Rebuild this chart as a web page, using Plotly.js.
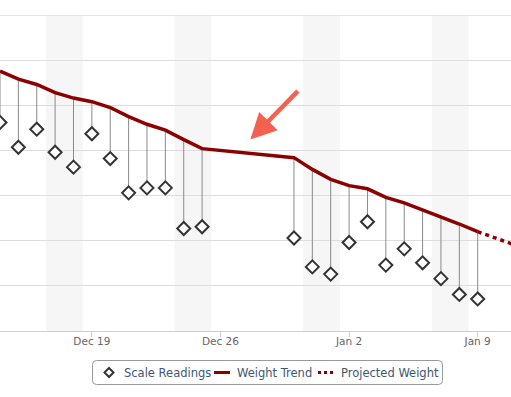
<!DOCTYPE html>
<html>
<head>
<meta charset="utf-8">
<script src="https://cdn.plot.ly/plotly-3.0.1.min.js"></script>
<style>
  html, body { margin: 0; padding: 0; background: #ffffff; }
  #chart { width: 511px; height: 397px; }
</style>
</head>
<body>
<div id="chart"></div>
<script>
// ---- data ----
const readingDates = ['2011-12-14','2011-12-15','2011-12-16','2011-12-17','2011-12-18','2011-12-19','2011-12-20','2011-12-21','2011-12-22','2011-12-23','2011-12-24','2011-12-25',
  '2011-12-30','2011-12-31','2012-01-01','2012-01-02','2012-01-03','2012-01-04','2012-01-05','2012-01-06','2012-01-07','2012-01-08','2012-01-09'];
const scaleReadings = [182.62,182.07,182.47,181.96,181.63,182.37,181.82,181.06,181.17,181.17,180.27,180.31,
  180.06,179.42,179.26,179.96,180.42,179.46,179.82,179.51,179.16,178.81,178.71];
const weightTrend = [183.76,183.58,183.46,183.28,183.16,183.08,182.95,182.75,182.58,182.45,182.24,182.04,
  181.84,181.58,181.36,181.22,181.15,180.96,180.84,180.69,180.52,180.37,180.20];
const projectedDates = ['2012-01-09','2012-01-11'];
const projectedWeight = [180.20, 179.91];
const weekendStarts = ['2011-12-16 12:00','2011-12-23 12:00','2011-12-30 12:00','2012-01-06 12:00'];
const weekendEnds   = ['2011-12-18 12:00','2011-12-25 12:00','2012-01-01 12:00','2012-01-08 12:00'];
const tickDates = ['2011-12-19','2011-12-26','2012-01-02','2012-01-09'];
const tickLabels = ['Dec 19','Dec 26','Jan 2','Jan 9'];
const legendNames = ['Scale Readings','Weight Trend','Projected Weight'];
const yMin = 178, yMax = 185;

// stems from trend to reading
const stemX = [], stemY = [];
readingDates.forEach((d, i) => {
  stemX.push(d, d, null);
  stemY.push(weightTrend[i], scaleReadings[i], null);
});

const FONT = '"DejaVu Sans", Verdana, Arial, sans-serif';
const RED = '#8b0000';
const GRID = '#dddddd';
const W = 511, H = 397, MT = 15, MB = 66;
const PH = H - MT - MB;
// pixel -> paper helpers for the hand-built legend
const PX = px => px / W;
const PY = py => (H - MB - py) / PH;

const traces = [
  { x: stemX, y: stemY, mode: 'lines', line: { color: '#8a8a8a', width: 1 },
    hoverinfo: 'skip', showlegend: false },
  { x: readingDates, y: weightTrend, mode: 'lines', name: legendNames[1],
    line: { color: RED, width: 3.5 }, showlegend: false },
  { x: projectedDates, y: projectedWeight, mode: 'lines', name: legendNames[2],
    line: { color: RED, width: 3.5, dash: '4px,4px' }, showlegend: false },
  { x: readingDates, y: scaleReadings, mode: 'markers', name: legendNames[0],
    marker: { symbol: 'diamond', size: 10, color: '#ffffff', line: { color: '#333333', width: 2 } },
    showlegend: false }
];

const shapes = weekendStarts.map((s, i) => ({
  type: 'rect', xref: 'x', yref: 'paper', x0: s, x1: weekendEnds[i], y0: 0, y1: 1,
  fillcolor: '#f6f6f6', line: { width: 0 }, layer: 'below'
}));
// top gridline (Plotly drops grid lines that sit on the plot edge)
shapes.push({ type: 'line', xref: 'paper', yref: 'y', x0: 0, x1: 1, y0: yMax, y1: yMax,
  line: { color: GRID, width: 1.5 }, layer: 'below' });

// legend box (rounded)
(function () {
  const x0 = 92.5, x1 = 442.5, y0 = 360.5, y1 = 384.5, r = 4;
  const p = (x, y) => PX(x) + ',' + PY(y);
  const path = 'M' + p(x0 + r, y0) + ' L' + p(x1 - r, y0) + ' Q' + p(x1, y0) + ' ' + p(x1, y0 + r) +
    ' L' + p(x1, y1 - r) + ' Q' + p(x1, y1) + ' ' + p(x1 - r, y1) +
    ' L' + p(x0 + r, y1) + ' Q' + p(x0, y1) + ' ' + p(x0, y1 - r) +
    ' L' + p(x0, y0 + r) + ' Q' + p(x0, y0) + ' ' + p(x0 + r, y0) + ' Z';
  shapes.push({ type: 'path', xref: 'paper', yref: 'paper', path: path,
    fillcolor: '#ffffff', line: { color: '#999999', width: 1 }, layer: 'above' });
  const cy = 372.5;
  // diamond symbol
  const cx = 109, d = 4.5;
  shapes.push({ type: 'path', xref: 'paper', yref: 'paper',
    path: 'M' + p(cx, cy - d) + ' L' + p(cx + d, cy) + ' L' + p(cx, cy + d) + ' L' + p(cx - d, cy) + ' Z',
    fillcolor: '#ffffff', line: { color: '#333333', width: 2 }, layer: 'above' });
  // solid line symbol
  shapes.push({ type: 'line', xref: 'paper', yref: 'paper', x0: PX(214), x1: PX(230), y0: PY(cy), y1: PY(cy),
    line: { color: RED, width: 3 }, layer: 'above' });
  // dotted line symbol
  shapes.push({ type: 'line', xref: 'paper', yref: 'paper', x0: PX(318), x1: PX(334), y0: PY(cy), y1: PY(cy),
    line: { color: RED, width: 3, dash: '3px,3px' }, layer: 'above' });
})();

const legendTextX = [121.5, 235, 339];
const annotations = legendNames.map((t, i) => ({
  xref: 'paper', yref: 'paper', x: PX(legendTextX[i]), y: PY(372.5), xanchor: 'left', yanchor: 'middle',
  text: t, showarrow: false, font: { family: FONT, size: 11.5, color: '#3e576f' }
}));
annotations.push({
  x: '2011-12-27 15:00', y: 182.24, xref: 'x', yref: 'y', text: '',
  showarrow: true, arrowhead: 2, arrowsize: 1.15, arrowwidth: 4.5, arrowcolor: '#f5604f',
  ax: 49, ay: -50, standoff: 0
});

const layout = {
  width: W, height: H,
  margin: { l: 0, r: 0, t: MT, b: MB },
  paper_bgcolor: '#ffffff', plot_bgcolor: 'rgba(0,0,0,0)',
  font: { family: FONT, color: '#666666', size: 11 },
  xaxis: {
    type: 'date', range: ['2011-12-14', '2012-01-10 19:30'],
    tickmode: 'array', tickvals: tickDates, ticktext: tickLabels,
    ticks: 'outside', ticklen: 5, tickcolor: '#c0d0e0', tickwidth: 1,
    ticklabelstandoff: -5,
    showgrid: false, zeroline: false, showline: true, linecolor: '#c0d0e0', linewidth: 1,
    tickfont: { family: FONT, size: 10.5, color: '#666666' }
  },
  yaxis: {
    range: [yMin, yMax], dtick: 1, tick0: yMin, showticklabels: false, ticks: '',
    showgrid: true, gridcolor: GRID, gridwidth: 1, zeroline: false, showline: false
  },
  shapes: shapes,
  annotations: annotations,
  showlegend: false
};

Plotly.newPlot('chart', traces, layout, { displayModeBar: false, staticPlot: true });
</script>
</body>
</html>
